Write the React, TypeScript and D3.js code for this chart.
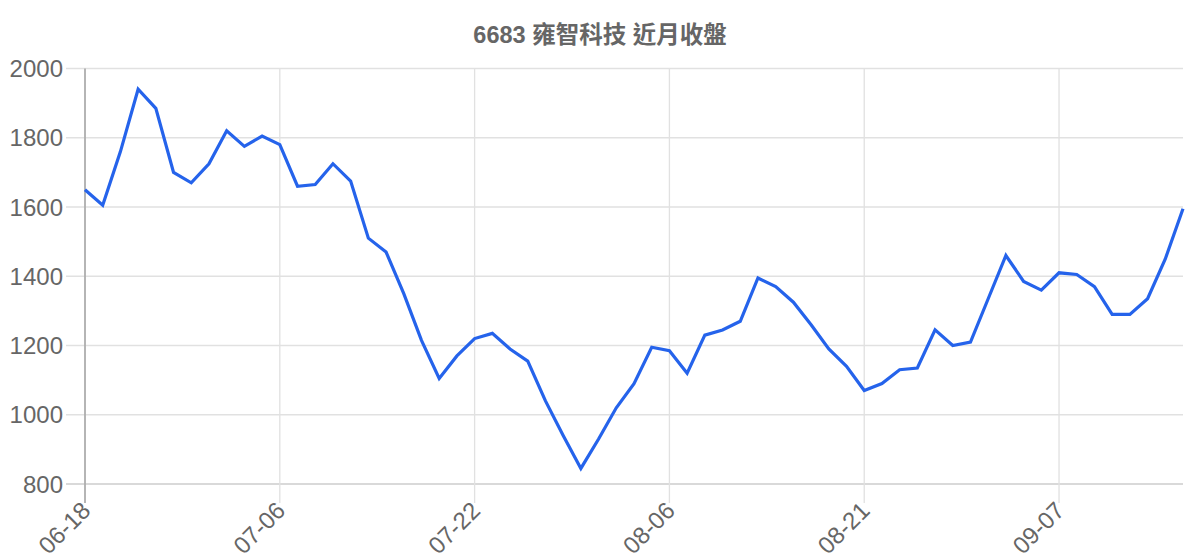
import { useMemo } from "react";
import * as d3 from "d3";

const title = "6683 雍智科技 近月收盤";

const dates = [
  "06-18", "06-19", "06-22", "06-23", "06-24", "06-25", "06-26", "06-29", "06-30", "07-01", "07-02",
  "07-06", "07-07", "07-08", "07-09", "07-10", "07-13", "07-14", "07-15", "07-16", "07-17", "07-20",
  "07-22", "07-23", "07-24", "07-27", "07-28", "07-29", "07-30", "07-31", "08-03", "08-04", "08-05",
  "08-06", "08-07", "08-10", "08-11", "08-12", "08-13", "08-14", "08-17", "08-18", "08-19", "08-20",
  "08-21", "08-24", "08-25", "08-26", "08-27", "08-28", "08-31", "09-01", "09-02", "09-03", "09-04",
  "09-07", "09-08", "09-09", "09-10", "09-11", "09-14", "09-15", "09-16",
];

const closes = [
  1650, 1605, 1760, 1940, 1885, 1700, 1670, 1725, 1820, 1775, 1805,
  1780, 1660, 1665, 1725, 1675, 1510, 1470, 1350, 1215, 1105, 1170,
  1220, 1235, 1190, 1155, 1040, 940, 845, 930, 1020, 1090, 1195,
  1185, 1120, 1230, 1245, 1270, 1395, 1370, 1325, 1260, 1190, 1140,
  1070, 1090, 1130, 1135, 1245, 1200, 1210, 1335, 1460, 1385, 1360,
  1410, 1405, 1370, 1290, 1290, 1335, 1450, 1595,
];

const yTicks = [800, 1000, 1200, 1400, 1600, 1800, 2000];
const xTickEvery = 11;

const W = 1200;
const H = 560;
const left = 85;
const right = 1183;
const top = 68.5;
const bottom = 484;
const tickLen = 19;

export default function App() {
  const x = useMemo(() => d3.scaleLinear().domain([0, closes.length - 1]).range([left, right]), []);
  const y = useMemo(() => d3.scaleLinear().domain([800, 2000]).range([bottom, top]), []);
  const path = d3
    .line<number>()
    .x((_, i) => x(i))
    .y((d) => y(d))(closes);
  const xTicks = dates.map((d, i) => ({ d, i })).filter((t) => t.i % xTickEvery === 0);
  const font = "'Liberation Sans', Arial, Helvetica, sans-serif";

  return (
    <svg
      width={W}
      height={H}
      viewBox={`0 0 ${W} ${H}`}
      style={{ position: "absolute", left: 0, top: 0, background: "#fff" }}
      fontFamily={font}
    >
      <text
        x={W / 2}
        y={43}
        textAnchor="middle"
        fontSize={23.5}
        fontWeight="bold"
        fill="#666"
        fontFamily={`'Liberation Sans', 'Noto Sans CJK TC', sans-serif`}
      >
        {title}
      </text>

      <g>
        {yTicks.map((t) => (
          <line
            key={`gy${t}`}
            x1={left - tickLen}
            x2={right}
            y1={y(t)}
            y2={y(t)}
            stroke={t === 800 ? "#cccccc" : "#e1e1e1"}
            strokeWidth={1.3}
          />
        ))}
        {xTicks.map((t) => (
          <line
            key={`gx${t.i}`}
            x1={x(t.i)}
            x2={x(t.i)}
            y1={top}
            y2={bottom + tickLen}
            stroke={t.i === 0 ? "#adadad" : "#e1e1e1"}
            strokeWidth={t.i === 0 ? 1.8 : 1.3}
          />
        ))}
      </g>

      <g fontSize={24} fill="#666">
        {yTicks.map((t) => (
          <text key={`ly${t}`} x={left - 22} y={y(t)} textAnchor="end" dominantBaseline="central">
            {t}
          </text>
        ))}
        {xTicks.map((t) => (
          <text
            key={`lx${t.i}`}
            transform={`translate(${x(t.i) + 1},${bottom + 22}) rotate(-45)`}
            textAnchor="end"
            dominantBaseline="central"
          >
            {t.d}
          </text>
        ))}
      </g>

      <path d={path ?? ""} fill="none" stroke="#2563eb" strokeWidth={3.2} strokeLinejoin="miter" />
    </svg>
  );
}
